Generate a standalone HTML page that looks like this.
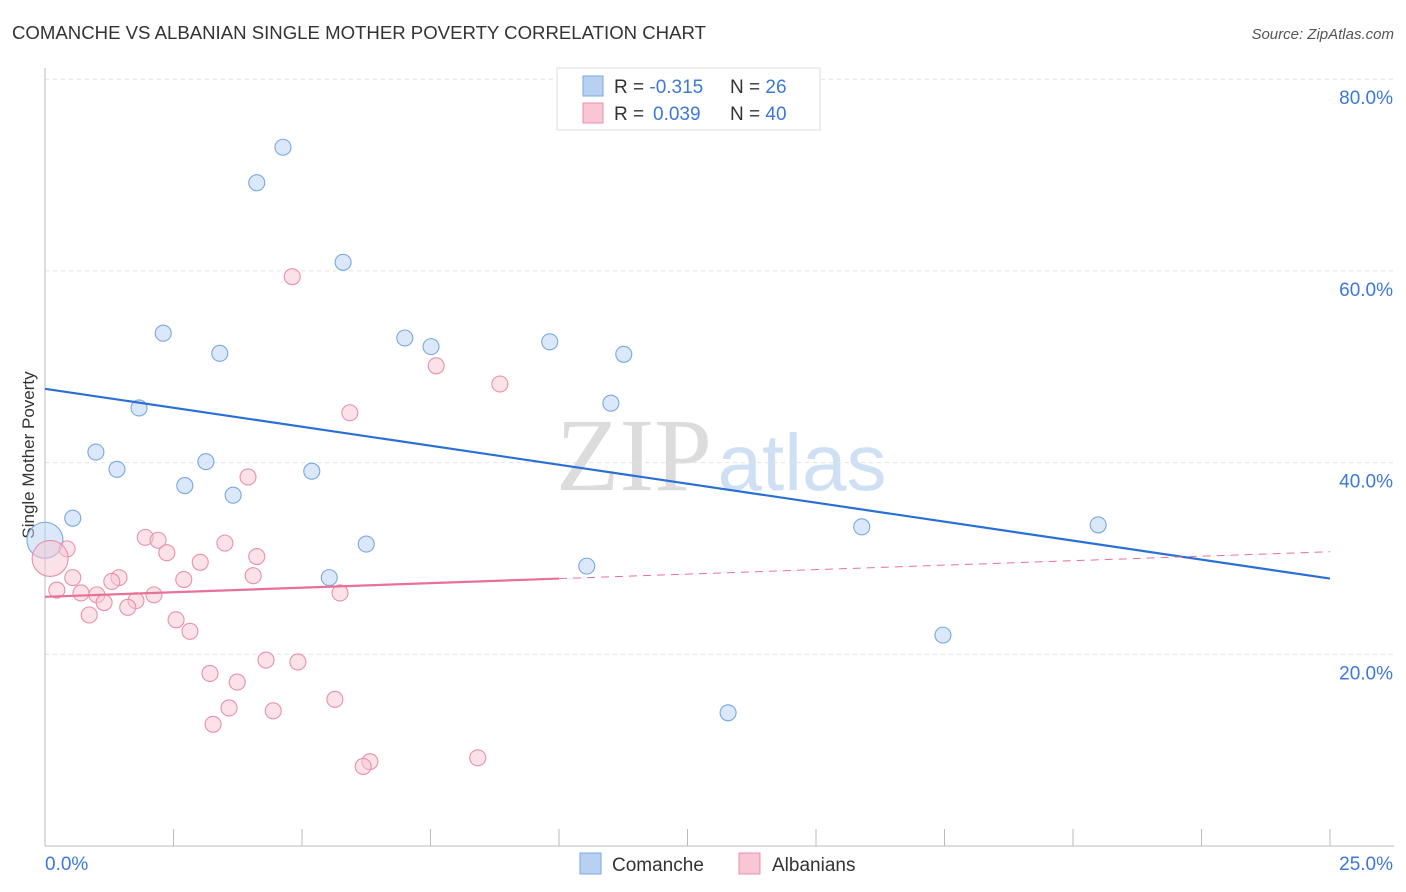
<!DOCTYPE html>
<html><head><meta charset="utf-8">
<style>
body{margin:0;background:#fff;font-family:"Liberation Sans",sans-serif;}
#wrap{position:relative;width:1406px;height:892px;overflow:hidden;}
</style></head>
<body>
<div id="wrap">
<svg id="chart" width="1406" height="892">
<text x="12" y="39" font-size="18.6" fill="#333">COMANCHE VS ALBANIAN SINGLE MOTHER POVERTY CORRELATION CHART</text>
<text x="1394" y="39" font-size="15" fill="#555" font-style="italic" text-anchor="end">Source: ZipAtlas.com</text>
<text x="634" y="490" font-size="104" fill="#dcdcdc" font-family="Liberation Serif,serif" text-anchor="middle">ZIP</text>
<text x="802" y="490" font-size="80" fill="#cfe0f5" text-anchor="middle">atlas</text>
<text transform="translate(34,455) rotate(-90)" font-size="17" fill="#333" text-anchor="middle">Single Mother Poverty</text>
<g id="grid"></g><g id="marks"></g><g id="lines"></g>
<rect x="557" y="68" width="263" height="62" fill="#fff" stroke="#ddd"/>
<rect x="583" y="76" width="20" height="20" fill="#b8d1f3" stroke="#7aa7e0"/>
<rect x="583" y="103" width="20" height="20" fill="#f8c6d4" stroke="#e890aa"/>
<text x="614" y="93" font-size="19" fill="#333">R = <tspan fill="#3c78d8">-0.315</tspan><tspan x="730">N = </tspan><tspan fill="#3c78d8">26</tspan></text>
<text x="614" y="120" font-size="19" fill="#333">R = <tspan x="653" fill="#3c78d8">0.039</tspan><tspan x="730">N = </tspan><tspan fill="#3c78d8">40</tspan></text>
<rect x="580" y="853" width="21" height="21" fill="#b8d1f3" stroke="#7aa7e0"/>
<text x="612" y="871" font-size="19" fill="#333">Comanche</text>
<rect x="739" y="853" width="21" height="21" fill="#f8c6d4" stroke="#e890aa"/>
<text x="772" y="871" font-size="19" fill="#333">Albanians</text>
</svg>
</div>
<script>
const yTicks=[20,40,60,80];
const xTickLabels=["0.0%","25.0%"];
const comancheX=[4.63,4.12,5.80,2.30,3.40,7.00,7.51,9.82,11.26,1.83,11.01,0.99,1.40,3.13,5.19,2.72,3.66,0.54,6.25,5.53,10.54,15.89,20.49,17.47,13.29,0];
const comancheY=[72.9,69.2,60.9,53.5,51.4,53.0,52.1,52.6,51.3,45.7,46.2,41.1,39.3,40.1,39.1,37.6,36.6,34.2,31.5,28.0,29.2,33.3,33.5,22.0,13.9,31.9];
const albX=[4.81,7.61,8.85,5.93,3.95,1.95,2.20,2.37,3.50,4.12,3.02,0.43,0.10,0.54,0.23,1.44,1.30,2.70,4.05,0.70,1.01,1.15,1.77,2.12,1.61,0.86,2.55,2.82,5.74,4.30,4.92,3.21,3.74,5.64,3.58,4.44,3.27,6.32,6.19,8.42];
const albY=[59.4,50.1,48.2,45.2,38.5,32.2,31.9,30.6,31.6,30.2,29.6,31.0,30.0,28.0,26.7,28.0,27.6,27.8,28.2,26.4,26.2,25.4,25.6,26.2,24.9,24.1,23.6,22.4,26.4,19.4,19.2,18.0,17.1,15.3,14.4,14.1,12.7,8.8,8.3,9.2];
const comancheTrend=[47.7,27.9];
const albTrend=[26.0,27.9,30.7];
const albTrendX=[0,10,25];
const NS="http://www.w3.org/2000/svg";
const X=v=>45+v/25*1285;
const Y=v=>846-v/20*191.7;
function mk(tag,attrs,parent){const e=document.createElementNS(NS,tag);for(const k in attrs)e.setAttribute(k,attrs[k]);parent.appendChild(e);return e;}
const grid=document.getElementById('grid'),marks=document.getElementById('marks'),lines=document.getElementById('lines');
yTicks.forEach(t=>{
 const l=mk('line',{x1:45,x2:1394,y1:Y(t),y2:Y(t),stroke:'#e3e3e3','stroke-dasharray':'4,4'},grid);
 
 
 const tx=mk('text',{x:1393,y:Y(t)+25,'font-size':19,fill:'#3c78d8','text-anchor':'end'},grid);
 tx.textContent=t.toFixed(1)+'%';
 
 
});
const ax=mk('line',{x1:45,x2:45,y1:68,y2:846,stroke:'#bbb'},grid);


const bx=mk('line',{x1:45,x2:1394,y1:846,y2:846,stroke:'#bbb'},grid);


for(let i=1;i<=10;i++){
 const t=mk('line',{x1:X(i*2.5),x2:X(i*2.5),y1:829,y2:846,stroke:'#bbb'},grid);
 
 
}
[[0,45,'start'],[1,1393,'end']].forEach(([i,x,a])=>{
 const t=mk('text',{x:x,y:870,'font-size':19,fill:'#3c78d8','text-anchor':a},grid);
 t.textContent=xTickLabels[i];
 
 
});
function pts(xs,ys,fill,stroke,name){
 xs.forEach((x,i)=>{
  const big=(x<0.2);
  const c=mk('circle',{cx:X(x),cy:Y(ys[i]),r:big?18:8,fill:fill,'fill-opacity':0.5,stroke:stroke,'stroke-width':1.1},marks);
  
  
 });
}
pts(comancheX,comancheY,'#b8d1f3','#7aa7e0','comanche-point');
pts(albX,albY,'#f8c6d4','#e890aa','albanians-point');
const bl=mk('line',{x1:X(0),y1:Y(comancheTrend[0]),x2:X(25),y2:Y(comancheTrend[1]),stroke:'#2a6fd6','stroke-width':2.2},lines);


const pl=mk('line',{x1:X(albTrendX[0]),y1:Y(albTrend[0]),x2:X(albTrendX[1]),y2:Y(albTrend[1]),stroke:'#e8719a','stroke-width':2.2},lines);


const pd=mk('line',{x1:X(albTrendX[1]),y1:Y(albTrend[1]),x2:X(albTrendX[2]),y2:Y(albTrend[2]),stroke:'#e8719a','stroke-width':1,'stroke-dasharray':'8,6'},lines);


</script>
</body></html>
